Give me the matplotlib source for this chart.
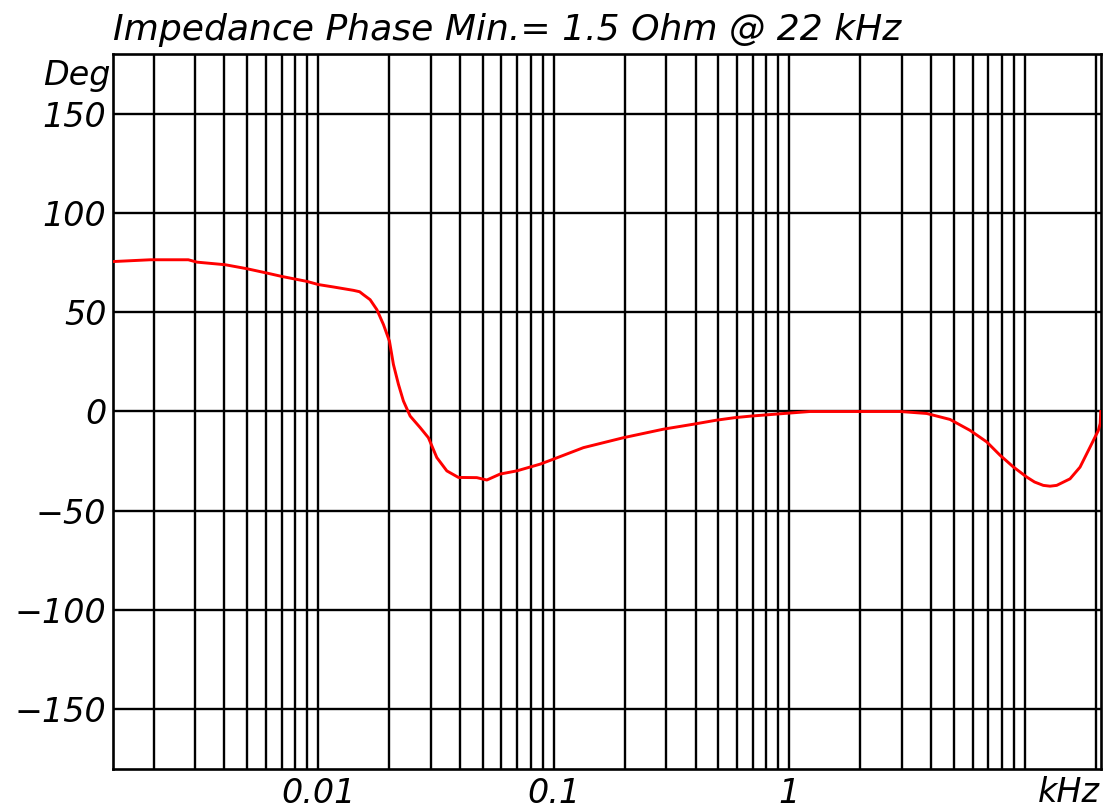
import numpy as np
import matplotlib
matplotlib.use("Agg")
import matplotlib.pyplot as plt
from matplotlib.ticker import LogLocator, FixedLocator, NullFormatter

# --- data ---
freq_hz = [1.35, 1.94, 2.81, 3.06, 4.03, 4.98, 6.06, 7.01, 8.96, 10.03, 11.61,
           14.12, 15.0, 15.57, 16.62, 17.75, 18.93, 20.08, 20.87, 21.92, 23.01,
           24.58, 27.1, 29.38, 31.9, 35.18, 39.4, 47.17, 52.0, 59.2, 69.7, 87.6,
           99.7, 133.7, 197.6, 292.2, 391.7, 489, 587, 689, 976, 1225, 2000,
           2953, 3834, 4814, 5854, 6891, 7847, 8938, 10190, 11000, 11980,
           12800, 13660, 15560, 17160, 18910, 20510, 20900, 21000]
phase_deg = [75.5, 76.4, 76.4, 75.2, 73.9, 71.9, 69.7, 68.0, 65.5, 63.9, 62.7,
             61.0, 60.3, 58.8, 56.3, 51.3, 43.8, 35.4, 23.7, 13.7, 5.3, -2.3,
             -8.1, -13.2, -23.2, -29.9, -33.2, -33.3, -34.5, -31.5, -29.9,
             -26.5, -24.0, -18.2, -13.2, -8.9, -6.4, -4.4, -3.1, -2.3, -0.9,
             0.0, 0.0, 0.0, -1.0, -4.0, -9.5, -15.3, -22.0, -27.9, -33.0,
             -35.5, -37.2, -37.6, -37.2, -33.9, -28.0, -18.0, -9.6, -6.0, 0.0]
x_tick_values = [0.01, 0.1, 1]
x_tick_labels = ["0.01", "0.1", "1"]
y_tick_values = [-150, -100, -50, 0, 50, 100, 150]
title_text = "Impedance Phase Min.= 1.5 Ohm @ 22 kHz"

freq_khz = np.array(freq_hz) / 1000.0

fig = plt.figure(figsize=(11.04, 8.09), dpi=100)
ax = fig.add_axes([113.3 / 1104, 1 - 769 / 809, (1100.7 - 113.3) / 1104, (769 - 54) / 809])

ax.set_xscale("log")
ax.set_xlim(0.00135, 21.0)
ax.set_ylim(-180, 180)

ax.plot(freq_khz, phase_deg, color="#ff0000", lw=2.1, zorder=5, clip_on=True,
        solid_joinstyle="round")

ax.xaxis.set_major_locator(FixedLocator(x_tick_values))
ax.set_xticklabels(x_tick_labels)
ax.xaxis.set_minor_locator(LogLocator(base=10, subs=np.arange(1, 10), numticks=100))
ax.xaxis.set_minor_formatter(NullFormatter())
ax.set_yticks(y_tick_values)
ax.set_yticklabels([str(v).replace("-", "\u2212") for v in y_tick_values])

ax.grid(True, which="both", color="black", lw=1.7)
ax.tick_params(which="both", length=0)
ax.tick_params(axis="y", pad=5)
ax.tick_params(axis="x", pad=6)
for lab in ax.get_xticklabels() + ax.get_yticklabels():
    lab.set_fontstyle("italic")
    lab.set_fontsize(24)
for s in ax.spines.values():
    s.set_linewidth(1.9)
    s.set_color("black")

fig.text(113 / 1104, 1 - 30 / 809, title_text, fontsize=26, fontstyle="italic",
         ha="left", va="center")
fig.text(110 / 1104, 1 - 76 / 809, "Deg", fontsize=24, fontstyle="italic",
         ha="right", va="center")
fig.text(1100 / 1104, 1 - 793 / 809, "kHz", fontsize=24, fontstyle="italic",
         ha="right", va="center")

fig.savefig("out.png", dpi=100)
